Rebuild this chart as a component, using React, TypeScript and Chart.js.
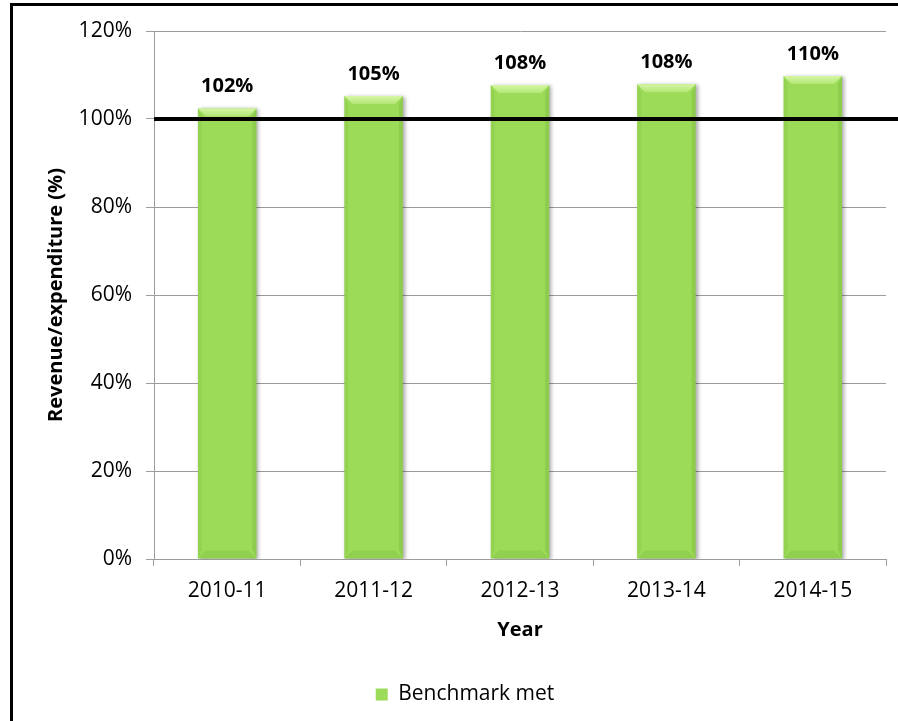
import React, { useEffect, useRef } from 'react';
import { Chart, registerables } from 'chart.js';

Chart.register(...registerables);

const categories = ['2010-11', '2011-12', '2012-13', '2013-14', '2014-15'];
const ratioValues = [102.4, 105.2, 107.7, 107.9, 109.8];
const benchmarkLevel = 100;
const yTicks = [0, 20, 40, 60, 80, 100, 120];
const seriesName = 'Benchmark met';
const yTitle = 'Revenue/expenditure (%)';
const xTitle = 'Year';

const FONT = "'Open Sans', 'DejaVu Sans', sans-serif";
const GREEN = '#9BDB57';
const GRID = '#9C9C9C';

const framePlugin = {
  id: 'frame',
  beforeDraw(chart: any) {
    const { ctx, width, height } = chart;
    ctx.save();
    ctx.fillStyle = '#ffffff';
    ctx.fillRect(0, 0, width, height);
    ctx.fillStyle = '#000000';
    ctx.fillRect(10, 3, 3, height);
    ctx.fillRect(10, 3, width, 3);
    ctx.restore();
  },
};

const barDecorPlugin = {
  id: 'barDecor',
  beforeDatasetsDraw(chart: any) {
    const ctx = chart.ctx;
    ctx.save();
    ctx.shadowColor = 'rgba(0,0,0,0.35)';
    ctx.shadowBlur = 4;
    ctx.shadowOffsetX = 2;
    ctx.shadowOffsetY = 1;
  },
  afterDatasetsDraw(chart: any) {
    const ctx = chart.ctx;
    ctx.restore();
    ctx.save();
    const meta = chart.getDatasetMeta(0);
    const ds = chart.data.datasets[0].data as number[];
    meta.data.forEach((bar: any, i: number) => {
      const { x, y, base, width } = bar.getProps(['x', 'y', 'base', 'width'], true);
      const l = x - width / 2;
      const r = x + width / 2;
      const t = y;
      const b = base;
      const bv = 8;
      const g = ctx.createLinearGradient(0, t, 0, t + bv);
      g.addColorStop(0, '#D6F7A6');
      g.addColorStop(1, '#B2E674');
      ctx.fillStyle = g;
      ctx.beginPath();
      ctx.moveTo(l, t);
      ctx.lineTo(r, t);
      ctx.lineTo(r - bv, t + bv);
      ctx.lineTo(l + bv, t + bv);
      ctx.closePath();
      ctx.fill();
      ctx.fillStyle = 'rgba(60,110,20,0.07)';
      ctx.beginPath();
      ctx.moveTo(l, t);
      ctx.lineTo(l + 4, t + bv);
      ctx.lineTo(l + 4, b - bv);
      ctx.lineTo(l, b);
      ctx.closePath();
      ctx.fill();
      ctx.fillStyle = 'rgba(60,110,20,0.14)';
      ctx.beginPath();
      ctx.moveTo(r, t);
      ctx.lineTo(r - 4, t + bv);
      ctx.lineTo(r - 4, b - bv);
      ctx.lineTo(r, b);
      ctx.closePath();
      ctx.fill();
      ctx.fillStyle = 'rgba(60,110,20,0.10)';
      ctx.beginPath();
      ctx.moveTo(l, b);
      ctx.lineTo(r, b);
      ctx.lineTo(r - bv, b - bv);
      ctx.lineTo(l + bv, b - bv);
      ctx.closePath();
      ctx.fill();
      ctx.fillStyle = '#000000';
      ctx.font = `bold 20px ${FONT}`;
      ctx.textAlign = 'center';
      ctx.textBaseline = 'middle';
      ctx.fillText(`${Math.round(ds[i])}%`, x, t - 22);
    });
    const yy = chart.scales.y.getPixelForValue(benchmarkLevel);
    ctx.fillStyle = '#000000';
    ctx.fillRect(chart.chartArea.left, yy - 2, chart.width - chart.chartArea.left, 4);
    ctx.restore();
  },
};

export default function App() {
  const ref = useRef<HTMLCanvasElement | null>(null);

  useEffect(() => {
    if (!ref.current) return;
    Chart.defaults.font.family = FONT;
    Chart.defaults.color = '#000000';
    const chart = new Chart(ref.current, {
      type: 'bar',
      data: {
        labels: categories,
        datasets: [
          {
            label: seriesName,
            data: ratioValues,
            backgroundColor: GREEN,
            borderWidth: 0,
            categoryPercentage: 1,
            barPercentage: 0.4,
          },
        ],
      },
      options: {
        animation: false,
        responsive: false,
        layout: { padding: { left: 44, right: 12, top: 31, bottom: 6 } },
        plugins: {
          legend: {
            position: 'bottom',
            labels: {
              boxWidth: 12,
              boxHeight: 12,
              padding: 5,
              font: { size: 21 },
              color: '#000000',
            },
          },
          tooltip: { enabled: false },
        },
        scales: {
          x: {
            grid: {
              display: true,
              drawOnChartArea: false,
              drawTicks: true,
              offset: true,
              tickLength: 7,
              color: GRID,
            },
            border: { display: true, color: GRID },
            ticks: { font: { size: 21 }, padding: 12, color: '#000000' },
            title: {
              display: true,
              text: xTitle,
              font: { size: 20, weight: 'bold' },
              padding: { top: 0, bottom: 37 },
              color: '#000000',
            },
            afterFit(scale: any) {
              scale.height = 120;
            },
          },
          y: {
            min: yTicks[0],
            max: yTicks[yTicks.length - 1],
            ticks: {
              stepSize: yTicks[1] - yTicks[0],
              font: { size: 21 },
              padding: 14,
              color: '#000000',
              callback: (v: any) => `${v}%`,
            },
            grid: { color: GRID, tickLength: 8 },
            border: { display: true, color: GRID },
            title: {
              display: true,
              text: yTitle,
              font: { size: 20, weight: 'bold' },
              padding: { top: 0, bottom: 0 },
              color: '#000000',
            },
            afterFit(scale: any) {
              scale.width = 110;
            },
          },
        },
      },
      plugins: [framePlugin, barDecorPlugin],
    } as any);
    return () => chart.destroy();
  }, []);

  return (
    <div style={{ position: 'absolute', left: 0, top: 0, width: 898, height: 721 }}>
      <canvas ref={ref} width={898} height={721} style={{ display: 'block' }} />
    </div>
  );
}
